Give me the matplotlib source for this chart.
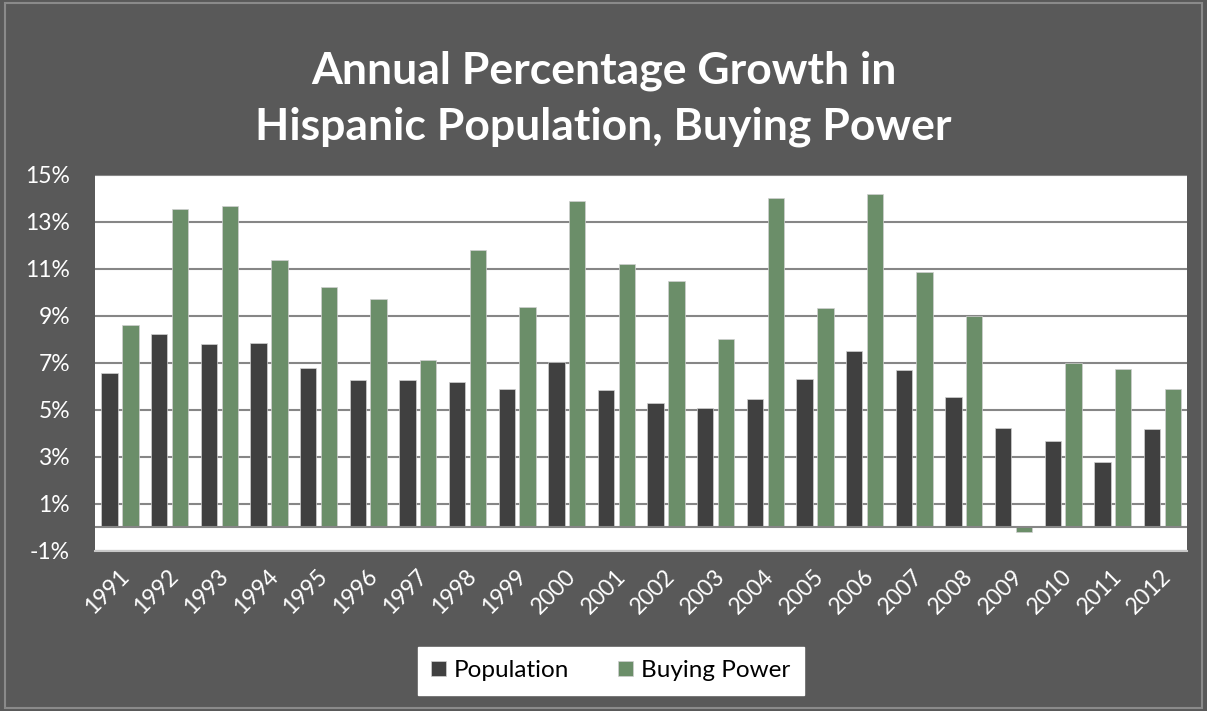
import numpy as np
import matplotlib
matplotlib.use('Agg')
import matplotlib.pyplot as plt
from matplotlib.patches import Rectangle
from matplotlib.transforms import ScaledTranslation

# data (annual growth, %)
years = ['1991', '1992', '1993', '1994', '1995', '1996', '1997', '1998', '1999', '2000', '2001',
         '2002', '2003', '2004', '2005', '2006', '2007', '2008', '2009', '2010', '2011', '2012']
population = [6.58, 8.21, 7.82, 7.84, 6.79, 6.27, 6.27, 6.18, 5.89, 7.05, 5.84,
              5.28, 5.09, 5.48, 6.31, 7.50, 6.68, 5.56, 4.24, 3.69, 2.78, 4.17]
buying_power = [8.62, 13.56, 13.70, 11.38, 10.23, 9.72, 7.12, 11.82, 9.39, 13.91, 11.21,
                10.48, 8.03, 14.01, 9.35, 14.21, 10.88, 8.99, -0.21, 7.01, 6.72, 5.90]
yticks = [-1, 1, 3, 5, 7, 9, 11, 13, 15]

bg = '#595959'
dark = '#404040'
green = '#6b8e69'

plt.rcParams['font.family'] = ['Lato', 'DejaVu Sans']

fig = plt.figure(figsize=(12.07, 7.11), dpi=100)
fig.patch.set_facecolor(bg)
fig.patches.append(Rectangle((0.004, 0.004), 0.992, 0.992, transform=fig.transFigure,
                             fill=False, edgecolor='#8a8a8a', lw=1.5))

ax = fig.add_axes([0.0787, 0.2255, 0.9047, 0.5284])
ax.set_facecolor('white')

x = np.arange(len(years))
w = 0.33
ax.bar(x - 0.205, population, w, color=dark, edgecolor='#d0d0d0', linewidth=0.5,
       label='Population', zorder=3)
ax.bar(x + 0.215, buying_power, w, color=green, edgecolor='#d0d0d0', linewidth=0.5,
       label='Buying Power', zorder=3)

ax.set_xlim(-0.5, len(years) - 0.5)
ax.set_ylim(-1, 15)
ax.set_yticks(yticks)
ax.set_yticklabels([f'{t}%' for t in yticks])
ax.yaxis.grid(True, color='#868686', linewidth=1.5, zorder=1)
ax.axhline(0, color='#868686', linewidth=1.5, zorder=4)
ax.tick_params(axis='y', length=0, pad=18, labelsize=16.5, labelcolor='white')
ax.tick_params(axis='x', length=0, pad=16, labelsize=16.5, labelcolor='white')
ax.set_xticks(x)
ax.set_xticklabels(years, rotation=45, ha='right', va='center', rotation_mode='anchor')
off = ScaledTranslation(6 / 100, 0, fig.dpi_scale_trans)
for lab in ax.get_xticklabels():
    lab.set_transform(lab.get_transform() + off)

for s in ax.spines.values():
    s.set_visible(False)
ax.spines['bottom'].set_visible(True)
ax.spines['bottom'].set_color('#c8c8c8')
ax.spines['bottom'].set_linewidth(1.5)

fig.text(0.5, 0.861, 'Annual Percentage Growth in\nHispanic Population, Buying Power',
         ha='center', va='center', color='white', fontsize=32, fontweight='bold',
         linespacing=1.45)

leg = fig.legend(loc='center', bbox_to_anchor=(0.506, 0.0565), ncol=2, frameon=True,
                 fancybox=False, fontsize=17.5, handlelength=0.6, handleheight=0.6,
                 handletextpad=0.35, columnspacing=2.0, borderpad=0.55,
                 borderaxespad=0)
leg.get_frame().set_facecolor('white')
leg.get_frame().set_edgecolor('white')
leg.get_frame().set_alpha(1)

fig.savefig('out.png', dpi=100, facecolor=bg)
